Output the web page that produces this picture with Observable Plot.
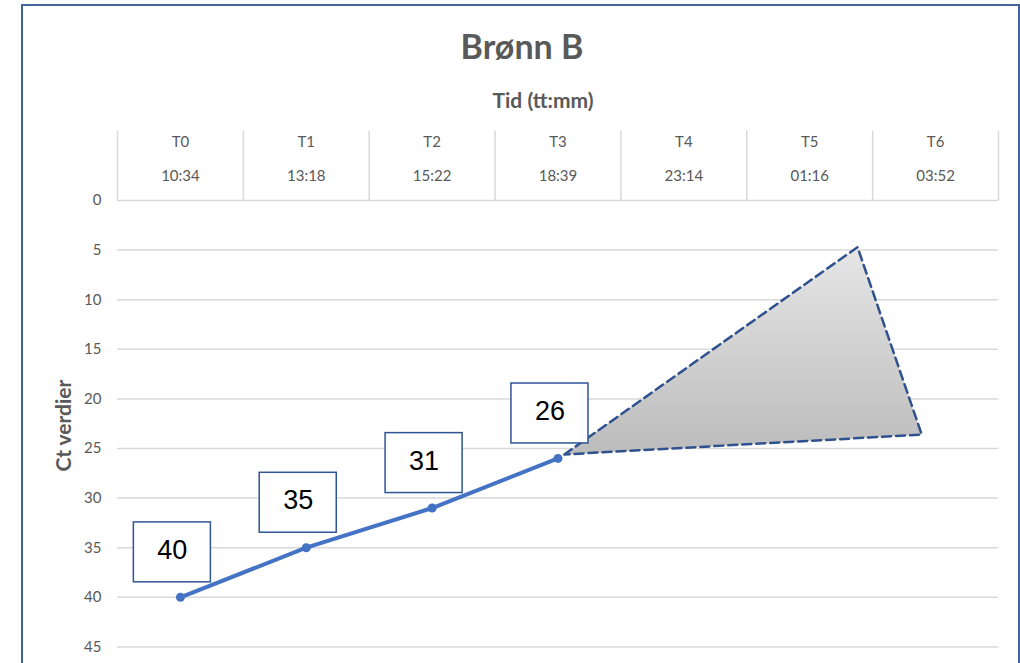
<!DOCTYPE html>
<html>
<head>
<meta charset="utf-8">
<script src="https://cdn.jsdelivr.net/npm/d3@7"></script>
<script src="https://cdn.jsdelivr.net/npm/@observablehq/plot@0.6"></script>
<style>
  html, body { margin: 0; padding: 0; overflow: hidden; background: #fff; width: 1020px; height: 663px; }
  #frame { position: absolute; left: 21px; top: 4px; width: 999px; height: 720px; border: 2px solid #42649f; border-bottom: none; box-sizing: border-box; }
  #title { position: absolute; left: 0; width: 1044px; top: 26px; text-align: center; font: bold 34px/1.2 Lato, sans-serif; color: #595959; }
  #subtitle { position: absolute; left: 0; width: 1086px; top: 87px; text-align: center; font: bold 21px/1.2 Lato, sans-serif; color: #595959; }
  #chart { position: absolute; left: 0; top: 110px; }
</style>
</head>
<body>
<div id="frame"></div>
<div id="title">Brønn B</div>
<div id="subtitle">Tid (tt:mm)</div>
<div id="chart"></div>
<script>
// ---- data ----
const categories = ["T0", "T1", "T2", "T3", "T4", "T5", "T6"];
const times = ["10:34", "13:18", "15:22", "18:39", "23:14", "01:16", "03:52"];
const ctValues = [40, 35, 31, 26];
const yTicks = [0, 5, 10, 15, 20, 25, 30, 35, 40, 45];
// projection triangle (hand-drawn shape), x in category index units, y in Ct
const forecastX = [3.05, 5.38, 5.89];
const forecastY = [25.6, 4.7, 23.6];

// ---- derived tables ----
const points = ctValues.map((v, i) => ({i, v}));
const boundaries = d3.range(categories.length + 1).map(i => i - 0.5);
const triangle = forecastX.map((x, k) => ({x, y: forecastY[k]}));

// label box geometry (in scale units)
const boxW = 0.612, boxH = 6.04, offX = -0.064, offY = 4.53;

const svg = Plot.plot({
  width: 1020,
  height: 596,
  marginLeft: 117,
  marginRight: 22,
  marginTop: 90,
  marginBottom: 10,
  style: {fontFamily: "Lato, sans-serif", fontSize: "15px", color: "#595959", background: "transparent", overflow: "visible"},
  x: {type: "linear", domain: [-0.5, categories.length - 0.5], axis: null},
  y: {domain: [0, 50], reverse: true, axis: null},
  marks: [
    Plot.gridY(yTicks, {stroke: "#d9d9d9", strokeOpacity: 1, strokeWidth: 1.5}),
    Plot.ruleX(boundaries, {x: d => d, y1: -7, y2: 0, stroke: "#d9d9d9", strokeWidth: 1.5}),
    Plot.axisY(yTicks, {tickSize: 0, tickPadding: 16, fontSize: 15, label: null}),
    Plot.text(categories, {x: (d, i) => i, frameAnchor: "top", lineAnchor: "middle", dy: -58, text: d => d, fontSize: 15, fill: "#595959"}),
    Plot.text(times, {x: (d, i) => i, frameAnchor: "top", lineAnchor: "middle", dy: -24, text: d => d, fontSize: 15, fill: "#595959"}),
    Plot.text(["Ct verdier"], {frameAnchor: "left", textAnchor: "middle", lineAnchor: "middle", rotate: -90, dx: -53, dy: -23, fontSize: 21, fontWeight: "bold", fill: "#595959"}),
    Plot.line(triangle, {x: "x", y: "y", curve: "linear-closed", fill: "url(#fcGrad)", stroke: "#2f528f", strokeWidth: 2.5, strokeDasharray: "9,5"}),
    Plot.line(points, {x: "i", y: "v", stroke: "#4472c4", strokeWidth: 4}),
    Plot.dot(points, {x: "i", y: "v", r: 4.5, fill: "#4472c4"}),
    Plot.rect(points, {
      x1: d => d.i + offX - boxW / 2, x2: d => d.i + offX + boxW / 2,
      y1: d => d.v - offY - boxH / 2, y2: d => d.v - offY + boxH / 2,
      fill: "white", stroke: "#2f5597", strokeWidth: 1.5
    }),
    Plot.text(points, {x: d => d.i + offX, y: d => d.v - offY, text: d => String(d.v), dy: -2, fontSize: 27, fontFamily: "Liberation Sans, Arial, sans-serif", fill: "#000"})
  ]
});

const defs = d3.select(svg).insert("defs", ":first-child");
const grad = defs.append("linearGradient").attr("id", "fcGrad").attr("x1", 0).attr("y1", 0).attr("x2", 0).attr("y2", 1);
grad.append("stop").attr("offset", "0%").attr("stop-color", "#e6e6e6");
grad.append("stop").attr("offset", "100%").attr("stop-color", "#bcbcbc");

document.getElementById("chart").appendChild(svg);
</script>
</body>
</html>
